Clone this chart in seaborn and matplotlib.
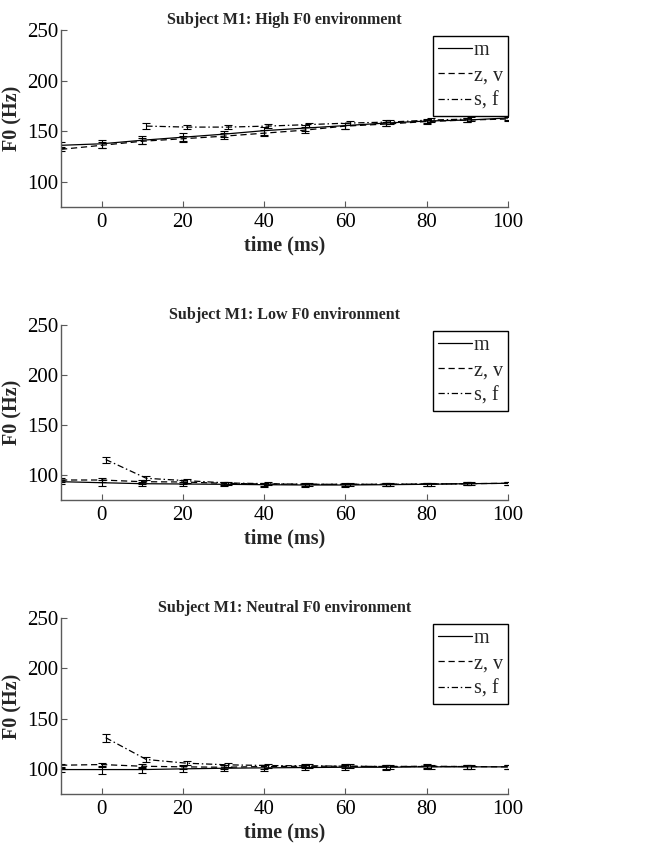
import numpy as np
import pandas as pd
import matplotlib
matplotlib.use("Agg")
import matplotlib.pyplot as plt
import seaborn as sns

# ---------------- data ----------------
time_ms = [-10, 0, 10, 20, 30, 40, 50, 60, 70, 80, 90, 100]
time_sf_high = [11, 21, 31, 41, 51, 61, 71, 81, 91]
time_sf = [1, 11, 21, 31, 41, 51, 61, 71, 81, 91]

titles = ["Subject M1: High F0 environment",
          "Subject M1: Low F0 environment",
          "Subject M1: Neutral F0 environment"]
series_names = ["m", "z, v", "s, f"]

# High F0
high_m = [136, 137.5, 141, 144, 147, 150.5, 153, 155.5, 158, 160, 161, 163]
high_zv = [132, 136, 140, 142.5, 145, 148, 151, 155, 157, 159.5, 161, 162]
high_sf = [155, 154, 154, 155, 156.5, 158, 159, 161, 162]
high_m_err = [3, 4, 4, 4, 3, 4, 3, 3, 3, 2, 2, 2]
high_zv_err = [2, 3, 3, 3, 3, 3, 3, 3, 2, 2, 2, 2]
high_sf_err = [3, 2, 2, 2, 2, 2, 2, 2, 2]

# Low F0
low_m = [93.3, 92.3, 91.3, 91, 90.7, 90.3, 90, 90, 90.3, 90.7, 91.3, 91.7]
low_zv = [95, 95, 93.3, 93, 91.7, 91, 90.7, 90.7, 90.7, 91, 91.3, 91.7]
low_sf = [115.5, 96.7, 94.3, 92, 91.3, 90.7, 90.7, 90.7, 91, 91.3]
low_m_err = [2, 3, 2, 2, 2, 2, 1.5, 1.5, 1.5, 1.5, 1.5, 1.5]
low_zv_err = [2, 2, 2, 2, 1.5, 1.5, 1.5, 1.5, 1.5, 1.5, 1.5, 1.5]
low_sf_err = [3, 2, 2, 1.5, 1.5, 1.5, 1.5, 1.5, 1.5, 1.5]

# Neutral F0
neu_m = [99.3, 99.3, 99.3, 100, 100.6, 101, 101.3, 101.6, 101.6, 102, 102, 102]
neu_zv = [103.6, 104.3, 102.6, 102, 101.6, 102.3, 102.6, 102.6, 102.3, 102.6, 102.3, 102]
neu_sf = [131, 109.3, 105.6, 104, 103.3, 103, 102.6, 102.3, 102.3, 102.3]
neu_m_err = [2, 4, 3, 3, 3, 3, 2.5, 2.5, 2.5, 2, 2, 2]
neu_zv_err = [1.5, 2, 2, 2, 2, 2, 2, 2, 2, 2, 2, 2]
neu_sf_err = [4, 2, 2, 2, 2, 2, 2, 2, 2, 2]

panels = [
    (high_m, high_m_err, high_zv, high_zv_err, time_sf_high, high_sf, high_sf_err),
    (low_m, low_m_err, low_zv, low_zv_err, time_sf, low_sf, low_sf_err),
    (neu_m, neu_m_err, neu_zv, neu_zv_err, time_sf, neu_sf, neu_sf_err),
]

# ---------------- style ----------------
sns.set_theme(style="white")
plt.rcParams["font.family"] = ["Liberation Serif", "DejaVu Serif"]

spine_color = "#5a5a5a"

fig = plt.figure(figsize=(6.5, 8.48), dpi=100)
ax_rects = [
    [61 / 650, 1 - 207 / 848, 447 / 650, 177 / 848],
    [61 / 650, 1 - 500 / 848, 447 / 650, 175 / 848],
    [61 / 650, 1 - 794 / 848, 447 / 650, 176 / 848],
]

dashes = {"m": "", "z, v": (5, 3), "s, f": (5, 2.2, 1.2, 2.2)}

for rect, title, (m, m_err, zv, zv_err, tsf, sf, sf_err) in zip(ax_rects, titles, panels):
    ax = fig.add_axes(rect)
    df = pd.concat([
        pd.DataFrame({"time": time_ms, "F0": m, "err": m_err, "series": "m"}),
        pd.DataFrame({"time": time_ms, "F0": zv, "err": zv_err, "series": "z, v"}),
        pd.DataFrame({"time": tsf, "F0": sf, "err": sf_err, "series": "s, f"}),
    ], ignore_index=True)

    sns.lineplot(data=df, x="time", y="F0", style="series",
                 style_order=series_names, dashes=dashes, color="black",
                 linewidth=0.9, ax=ax, legend=True, errorbar=None)

    for name in series_names:
        sub = df[df["series"] == name]
        ax.errorbar(sub["time"], sub["F0"], yerr=sub["err"], fmt="none",
                    ecolor="black", elinewidth=0.8, capsize=3.2, capthick=0.8,
                    clip_on=True)

    ax.set_xlim(-10, 100)
    ax.set_ylim(75, 250)
    ax.set_xticks([0, 20, 40, 60, 80, 100])
    ax.set_yticks([100, 150, 200, 250])
    ax.tick_params(axis="both", direction="in", length=4, width=0.8,
                   colors=spine_color, labelcolor="black", labelsize=15,
                   bottom=True, left=True)
    ax.tick_params(axis="y", pad=2)
    ax.tick_params(axis="x", pad=4)
    for s in ["top", "right"]:
        ax.spines[s].set_visible(False)
    for s in ["left", "bottom"]:
        ax.spines[s].set_color(spine_color)
        ax.spines[s].set_linewidth(1.0)

    ax.set_title(title, fontsize=11.5, fontweight="bold", pad=4)
    ax.set_xlabel("time (ms)", fontsize=14.5, fontweight="bold", labelpad=3)
    ax.set_ylabel("F0 (Hz)", fontsize=14.5, fontweight="bold", labelpad=3)

    leg = ax.legend(loc="upper right", bbox_to_anchor=(1.0, 0.965),
                    fontsize=14.5, frameon=True, fancybox=False, framealpha=1,
                    handlelength=1.7, handletextpad=0.1, labelspacing=0.3,
                    borderpad=0.25, borderaxespad=0.0, title=None)
    leg.get_frame().set_edgecolor("black")
    leg.get_frame().set_linewidth(1.0)
    for line in leg.get_lines():
        line.set_linewidth(0.9)

fig.savefig("out.png", dpi=100, facecolor="white")
